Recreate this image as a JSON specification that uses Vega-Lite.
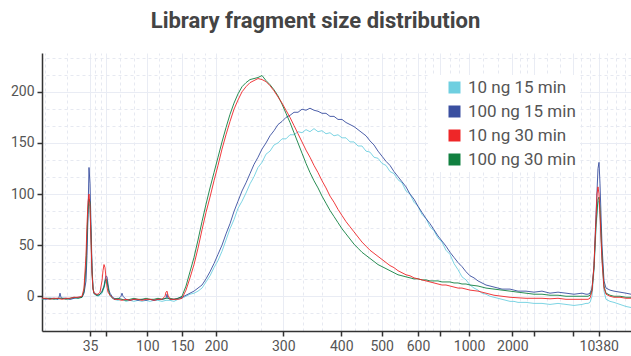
{
  "$schema": "https://vega.github.io/schema/vega-lite/v6.json",
  "width": 589,
  "height": 278,
  "autosize": "none",
  "padding": {"left": 42, "top": 53, "right": 0, "bottom": 25},
  "background": "white",
  "title": {"text": "Library fragment size distribution", "font": "Roboto", "fontSize": 22, "fontWeight": "bold", "color": "#444444", "anchor": "middle", "frame": "group", "dx": -21, "offset": 20},
  "config": {"view": {"stroke": null}},
  "data": {"values": [
{"sample":"10 ng 15 min","t":40,"signal":-3},{"sample":"10 ng 15 min","t":40.5,"signal":-2},{"sample":"10 ng 15 min","t":41,"signal":-3},{"sample":"10 ng 15 min","t":41.5,"signal":-2},{"sample":"10 ng 15 min","t":42,"signal":-3},{"sample":"10 ng 15 min","t":42.5,"signal":-2},{"sample":"10 ng 15 min","t":43,"signal":-2},{"sample":"10 ng 15 min","t":43.5,"signal":-3},{"sample":"10 ng 15 min","t":44,"signal":-2},{"sample":"10 ng 15 min","t":44.5,"signal":-2},{"sample":"10 ng 15 min","t":45,"signal":-1},
{"sample":"10 ng 15 min","t":45.25,"signal":4},{"sample":"10 ng 15 min","t":45.5,"signal":25},{"sample":"10 ng 15 min","t":45.625,"signal":55},{"sample":"10 ng 15 min","t":45.75,"signal":80},{"sample":"10 ng 15 min","t":45.875,"signal":90},{"sample":"10 ng 15 min","t":46,"signal":88},{"sample":"10 ng 15 min","t":46.125,"signal":58},{"sample":"10 ng 15 min","t":46.25,"signal":24},{"sample":"10 ng 15 min","t":46.375,"signal":7},{"sample":"10 ng 15 min","t":46.5,"signal":2},{"sample":"10 ng 15 min","t":46.75,"signal":1},{"sample":"10 ng 15 min","t":47,"signal":0},
{"sample":"10 ng 15 min","t":47.25,"signal":1},{"sample":"10 ng 15 min","t":47.5,"signal":3},{"sample":"10 ng 15 min","t":47.75,"signal":8},{"sample":"10 ng 15 min","t":47.875,"signal":12},{"sample":"10 ng 15 min","t":48,"signal":15},{"sample":"10 ng 15 min","t":48.125,"signal":14},{"sample":"10 ng 15 min","t":48.25,"signal":8},{"sample":"10 ng 15 min","t":48.375,"signal":4},{"sample":"10 ng 15 min","t":48.5,"signal":1},{"sample":"10 ng 15 min","t":48.75,"signal":-2},
{"sample":"10 ng 15 min","t":49,"signal":-3},{"sample":"10 ng 15 min","t":49.5,"signal":-4},{"sample":"10 ng 15 min","t":50,"signal":-3},{"sample":"10 ng 15 min","t":50.5,"signal":-5},{"sample":"10 ng 15 min","t":51,"signal":-4},{"sample":"10 ng 15 min","t":51.5,"signal":-5},{"sample":"10 ng 15 min","t":52,"signal":-4},{"sample":"10 ng 15 min","t":52.5,"signal":-5},{"sample":"10 ng 15 min","t":53,"signal":-4},{"sample":"10 ng 15 min","t":53.5,"signal":-5},{"sample":"10 ng 15 min","t":54,"signal":-4},{"sample":"10 ng 15 min","t":54.5,"signal":-4},{"sample":"10 ng 15 min","t":55,"signal":-5},{"sample":"10 ng 15 min","t":55.5,"signal":-4},{"sample":"10 ng 15 min","t":56,"signal":-4},{"sample":"10 ng 15 min","t":56.5,"signal":-5},
{"sample":"10 ng 15 min","t":57,"signal":-3},{"sample":"10 ng 15 min","t":57.5,"signal":-2},{"sample":"10 ng 15 min","t":58,"signal":0},{"sample":"10 ng 15 min","t":58.5,"signal":2},{"sample":"10 ng 15 min","t":59,"signal":3},{"sample":"10 ng 15 min","t":59.5,"signal":5},{"sample":"10 ng 15 min","t":60,"signal":8},{"sample":"10 ng 15 min","t":60.5,"signal":14},{"sample":"10 ng 15 min","t":61,"signal":20},{"sample":"10 ng 15 min","t":61.5,"signal":28},{"sample":"10 ng 15 min","t":62,"signal":35},{"sample":"10 ng 15 min","t":62.5,"signal":44},{"sample":"10 ng 15 min","t":63,"signal":55},{"sample":"10 ng 15 min","t":63.5,"signal":66},{"sample":"10 ng 15 min","t":64,"signal":75},{"sample":"10 ng 15 min","t":64.5,"signal":86},{"sample":"10 ng 15 min","t":65,"signal":93},{"sample":"10 ng 15 min","t":65.5,"signal":101},{"sample":"10 ng 15 min","t":66,"signal":110},{"sample":"10 ng 15 min","t":66.5,"signal":117},{"sample":"10 ng 15 min","t":67,"signal":126},{"sample":"10 ng 15 min","t":67.5,"signal":131},{"sample":"10 ng 15 min","t":68,"signal":139},{"sample":"10 ng 15 min","t":68.5,"signal":142},{"sample":"10 ng 15 min","t":69,"signal":148},{"sample":"10 ng 15 min","t":69.5,"signal":150},{"sample":"10 ng 15 min","t":70,"signal":154},{"sample":"10 ng 15 min","t":70.5,"signal":154},{"sample":"10 ng 15 min","t":71,"signal":158},{"sample":"10 ng 15 min","t":71.5,"signal":158},{"sample":"10 ng 15 min","t":72,"signal":161},{"sample":"10 ng 15 min","t":72.5,"signal":160},{"sample":"10 ng 15 min","t":73,"signal":163},{"sample":"10 ng 15 min","t":73.5,"signal":161},{"sample":"10 ng 15 min","t":74,"signal":164},{"sample":"10 ng 15 min","t":74.5,"signal":161},{"sample":"10 ng 15 min","t":75,"signal":162},{"sample":"10 ng 15 min","t":75.5,"signal":159},{"sample":"10 ng 15 min","t":76,"signal":160},{"sample":"10 ng 15 min","t":76.5,"signal":157},{"sample":"10 ng 15 min","t":77,"signal":158},{"sample":"10 ng 15 min","t":77.5,"signal":155},{"sample":"10 ng 15 min","t":78,"signal":155},{"sample":"10 ng 15 min","t":78.5,"signal":151},{"sample":"10 ng 15 min","t":79,"signal":151},{"sample":"10 ng 15 min","t":79.5,"signal":147},{"sample":"10 ng 15 min","t":80,"signal":147},{"sample":"10 ng 15 min","t":80.5,"signal":142},{"sample":"10 ng 15 min","t":81,"signal":141},{"sample":"10 ng 15 min","t":81.5,"signal":136},{"sample":"10 ng 15 min","t":82,"signal":135},{"sample":"10 ng 15 min","t":82.5,"signal":130},{"sample":"10 ng 15 min","t":83,"signal":128},{"sample":"10 ng 15 min","t":83.5,"signal":122},{"sample":"10 ng 15 min","t":84,"signal":120},{"sample":"10 ng 15 min","t":84.5,"signal":114},{"sample":"10 ng 15 min","t":85,"signal":111},{"sample":"10 ng 15 min","t":85.5,"signal":103},{"sample":"10 ng 15 min","t":86,"signal":100},{"sample":"10 ng 15 min","t":86.5,"signal":92},{"sample":"10 ng 15 min","t":87,"signal":88},{"sample":"10 ng 15 min","t":87.5,"signal":80},{"sample":"10 ng 15 min","t":88,"signal":76},{"sample":"10 ng 15 min","t":88.5,"signal":68},{"sample":"10 ng 15 min","t":89,"signal":64},{"sample":"10 ng 15 min","t":89.5,"signal":57},{"sample":"10 ng 15 min","t":90,"signal":53},{"sample":"10 ng 15 min","t":90.5,"signal":45},{"sample":"10 ng 15 min","t":91,"signal":41},{"sample":"10 ng 15 min","t":91.5,"signal":32},{"sample":"10 ng 15 min","t":92,"signal":26},{"sample":"10 ng 15 min","t":92.5,"signal":19},{"sample":"10 ng 15 min","t":93,"signal":16},{"sample":"10 ng 15 min","t":93.5,"signal":11},{"sample":"10 ng 15 min","t":94,"signal":8},{"sample":"10 ng 15 min","t":94.5,"signal":6},{"sample":"10 ng 15 min","t":95,"signal":3},{"sample":"10 ng 15 min","t":95.5,"signal":2},{"sample":"10 ng 15 min","t":96,"signal":0},{"sample":"10 ng 15 min","t":96.5,"signal":-1},{"sample":"10 ng 15 min","t":97,"signal":-2},{"sample":"10 ng 15 min","t":97.5,"signal":-3},{"sample":"10 ng 15 min","t":98,"signal":-4},{"sample":"10 ng 15 min","t":98.5,"signal":-5},{"sample":"10 ng 15 min","t":99,"signal":-5},{"sample":"10 ng 15 min","t":99.5,"signal":-6},{"sample":"10 ng 15 min","t":100.5,"signal":-6},{"sample":"10 ng 15 min","t":101.5,"signal":-7},{"sample":"10 ng 15 min","t":102.5,"signal":-7},{"sample":"10 ng 15 min","t":103.5,"signal":-8},{"sample":"10 ng 15 min","t":104.5,"signal":-7},{"sample":"10 ng 15 min","t":105.5,"signal":-8},{"sample":"10 ng 15 min","t":106.5,"signal":-9},{"sample":"10 ng 15 min","t":107.5,"signal":-8},{"sample":"10 ng 15 min","t":108,"signal":-7},
{"sample":"10 ng 15 min","t":108.25,"signal":-7},{"sample":"10 ng 15 min","t":108.5,"signal":-6},{"sample":"10 ng 15 min","t":108.75,"signal":0},{"sample":"10 ng 15 min","t":109,"signal":25},{"sample":"10 ng 15 min","t":109.25,"signal":65},{"sample":"10 ng 15 min","t":109.5,"signal":92},{"sample":"10 ng 15 min","t":109.625,"signal":93},{"sample":"10 ng 15 min","t":109.75,"signal":80},{"sample":"10 ng 15 min","t":110,"signal":35},{"sample":"10 ng 15 min","t":110.25,"signal":5},{"sample":"10 ng 15 min","t":110.5,"signal":-3},{"sample":"10 ng 15 min","t":111,"signal":-5},{"sample":"10 ng 15 min","t":111.5,"signal":-6},{"sample":"10 ng 15 min","t":112.25,"signal":-8},{"sample":"10 ng 15 min","t":113,"signal":-10},{"sample":"10 ng 15 min","t":113.625,"signal":-11},

{"sample":"100 ng 15 min","t":40,"signal":-2},{"sample":"100 ng 15 min","t":40.5,"signal":-3},{"sample":"100 ng 15 min","t":41,"signal":-2},{"sample":"100 ng 15 min","t":41.5,"signal":-2},{"sample":"100 ng 15 min","t":42,"signal":-3},{"sample":"100 ng 15 min","t":42.125,"signal":-1},{"sample":"100 ng 15 min","t":42.25,"signal":3},{"sample":"100 ng 15 min","t":42.375,"signal":-1},{"sample":"100 ng 15 min","t":42.5,"signal":-2},{"sample":"100 ng 15 min","t":43,"signal":-2},{"sample":"100 ng 15 min","t":43.5,"signal":-3},{"sample":"100 ng 15 min","t":44,"signal":-2},{"sample":"100 ng 15 min","t":44.5,"signal":-1},{"sample":"100 ng 15 min","t":45,"signal":-1},
{"sample":"100 ng 15 min","t":45.25,"signal":3},{"sample":"100 ng 15 min","t":45.5,"signal":15},{"sample":"100 ng 15 min","t":45.625,"signal":40},{"sample":"100 ng 15 min","t":45.75,"signal":80},{"sample":"100 ng 15 min","t":45.875,"signal":126},{"sample":"100 ng 15 min","t":46,"signal":110},{"sample":"100 ng 15 min","t":46.125,"signal":70},{"sample":"100 ng 15 min","t":46.25,"signal":30},{"sample":"100 ng 15 min","t":46.375,"signal":8},{"sample":"100 ng 15 min","t":46.5,"signal":3},{"sample":"100 ng 15 min","t":46.75,"signal":2},{"sample":"100 ng 15 min","t":47,"signal":1},
{"sample":"100 ng 15 min","t":47.25,"signal":2},{"sample":"100 ng 15 min","t":47.5,"signal":5},{"sample":"100 ng 15 min","t":47.75,"signal":10},{"sample":"100 ng 15 min","t":47.875,"signal":16},{"sample":"100 ng 15 min","t":48,"signal":20},{"sample":"100 ng 15 min","t":48.125,"signal":19},{"sample":"100 ng 15 min","t":48.25,"signal":12},{"sample":"100 ng 15 min","t":48.375,"signal":6},{"sample":"100 ng 15 min","t":48.5,"signal":3},{"sample":"100 ng 15 min","t":48.75,"signal":0},
{"sample":"100 ng 15 min","t":49,"signal":-2},{"sample":"100 ng 15 min","t":49.5,"signal":-3},{"sample":"100 ng 15 min","t":49.875,"signal":0},{"sample":"100 ng 15 min","t":50,"signal":3},{"sample":"100 ng 15 min","t":50.125,"signal":0},{"sample":"100 ng 15 min","t":50.5,"signal":-3},{"sample":"100 ng 15 min","t":51,"signal":-4},{"sample":"100 ng 15 min","t":51.5,"signal":-3},{"sample":"100 ng 15 min","t":52,"signal":-4},{"sample":"100 ng 15 min","t":52.5,"signal":-3},{"sample":"100 ng 15 min","t":53,"signal":-4},{"sample":"100 ng 15 min","t":53.5,"signal":-3},{"sample":"100 ng 15 min","t":54,"signal":-4},{"sample":"100 ng 15 min","t":54.5,"signal":-3},{"sample":"100 ng 15 min","t":55,"signal":-3},{"sample":"100 ng 15 min","t":55.5,"signal":-2},{"sample":"100 ng 15 min","t":55.625,"signal":2},{"sample":"100 ng 15 min","t":55.75,"signal":-2},{"sample":"100 ng 15 min","t":56,"signal":-3},{"sample":"100 ng 15 min","t":56.5,"signal":-3},
{"sample":"100 ng 15 min","t":57,"signal":-2},{"sample":"100 ng 15 min","t":57.5,"signal":-1},{"sample":"100 ng 15 min","t":58,"signal":1},{"sample":"100 ng 15 min","t":58.5,"signal":3},{"sample":"100 ng 15 min","t":59,"signal":5},{"sample":"100 ng 15 min","t":59.5,"signal":8},{"sample":"100 ng 15 min","t":60,"signal":11},{"sample":"100 ng 15 min","t":60.5,"signal":17},{"sample":"100 ng 15 min","t":61,"signal":24},{"sample":"100 ng 15 min","t":61.5,"signal":32},{"sample":"100 ng 15 min","t":62,"signal":41},{"sample":"100 ng 15 min","t":62.5,"signal":50},{"sample":"100 ng 15 min","t":63,"signal":61},{"sample":"100 ng 15 min","t":63.5,"signal":71},{"sample":"100 ng 15 min","t":64,"signal":83},{"sample":"100 ng 15 min","t":64.5,"signal":93},{"sample":"100 ng 15 min","t":65,"signal":103},{"sample":"100 ng 15 min","t":65.5,"signal":111},{"sample":"100 ng 15 min","t":66,"signal":120},{"sample":"100 ng 15 min","t":66.5,"signal":129},{"sample":"100 ng 15 min","t":67,"signal":136},{"sample":"100 ng 15 min","t":67.5,"signal":144},{"sample":"100 ng 15 min","t":68,"signal":150},{"sample":"100 ng 15 min","t":68.5,"signal":157},{"sample":"100 ng 15 min","t":69,"signal":162},{"sample":"100 ng 15 min","t":69.5,"signal":168},{"sample":"100 ng 15 min","t":70,"signal":171},{"sample":"100 ng 15 min","t":70.5,"signal":175},{"sample":"100 ng 15 min","t":71,"signal":177},{"sample":"100 ng 15 min","t":71.5,"signal":180},{"sample":"100 ng 15 min","t":72,"signal":180},{"sample":"100 ng 15 min","t":72.5,"signal":183},{"sample":"100 ng 15 min","t":73,"signal":182},{"sample":"100 ng 15 min","t":73.5,"signal":184},{"sample":"100 ng 15 min","t":74,"signal":182},{"sample":"100 ng 15 min","t":74.5,"signal":181},{"sample":"100 ng 15 min","t":75,"signal":179},{"sample":"100 ng 15 min","t":75.5,"signal":179},{"sample":"100 ng 15 min","t":76,"signal":176},{"sample":"100 ng 15 min","t":76.5,"signal":176},{"sample":"100 ng 15 min","t":77,"signal":173},{"sample":"100 ng 15 min","t":77.5,"signal":173},{"sample":"100 ng 15 min","t":78,"signal":170},{"sample":"100 ng 15 min","t":78.5,"signal":168},{"sample":"100 ng 15 min","t":79,"signal":166},{"sample":"100 ng 15 min","t":79.5,"signal":163},{"sample":"100 ng 15 min","t":80,"signal":160},{"sample":"100 ng 15 min","t":80.5,"signal":157},{"sample":"100 ng 15 min","t":81,"signal":152},{"sample":"100 ng 15 min","t":81.5,"signal":148},{"sample":"100 ng 15 min","t":82,"signal":142},{"sample":"100 ng 15 min","t":82.5,"signal":137},{"sample":"100 ng 15 min","t":83,"signal":132},{"sample":"100 ng 15 min","t":83.5,"signal":128},{"sample":"100 ng 15 min","t":84,"signal":122},{"sample":"100 ng 15 min","t":84.5,"signal":117},{"sample":"100 ng 15 min","t":85,"signal":112},{"sample":"100 ng 15 min","t":85.5,"signal":107},{"sample":"100 ng 15 min","t":86,"signal":100},{"sample":"100 ng 15 min","t":86.5,"signal":95},{"sample":"100 ng 15 min","t":87,"signal":88},{"sample":"100 ng 15 min","t":87.5,"signal":82},{"sample":"100 ng 15 min","t":88,"signal":76},{"sample":"100 ng 15 min","t":88.5,"signal":71},{"sample":"100 ng 15 min","t":89,"signal":65},{"sample":"100 ng 15 min","t":89.5,"signal":59},{"sample":"100 ng 15 min","t":90,"signal":54},{"sample":"100 ng 15 min","t":90.5,"signal":49},{"sample":"100 ng 15 min","t":91,"signal":43},{"sample":"100 ng 15 min","t":91.5,"signal":38},{"sample":"100 ng 15 min","t":92,"signal":33},{"sample":"100 ng 15 min","t":92.5,"signal":29},{"sample":"100 ng 15 min","t":93,"signal":24},{"sample":"100 ng 15 min","t":93.5,"signal":20},{"sample":"100 ng 15 min","t":94,"signal":18},{"sample":"100 ng 15 min","t":94.5,"signal":15},{"sample":"100 ng 15 min","t":95,"signal":13},{"sample":"100 ng 15 min","t":95.5,"signal":11},{"sample":"100 ng 15 min","t":96.5,"signal":9},{"sample":"100 ng 15 min","t":97.5,"signal":7},{"sample":"100 ng 15 min","t":98.5,"signal":7},{"sample":"100 ng 15 min","t":99.5,"signal":5},{"sample":"100 ng 15 min","t":100.5,"signal":5},{"sample":"100 ng 15 min","t":101.5,"signal":4},{"sample":"100 ng 15 min","t":102.5,"signal":5},{"sample":"100 ng 15 min","t":103.5,"signal":3},{"sample":"100 ng 15 min","t":104.5,"signal":4},{"sample":"100 ng 15 min","t":105.5,"signal":3},{"sample":"100 ng 15 min","t":106.5,"signal":2},{"sample":"100 ng 15 min","t":107.5,"signal":3},{"sample":"100 ng 15 min","t":108,"signal":2},
{"sample":"100 ng 15 min","t":108.25,"signal":2},{"sample":"100 ng 15 min","t":108.5,"signal":3},{"sample":"100 ng 15 min","t":108.75,"signal":8},{"sample":"100 ng 15 min","t":109,"signal":30},{"sample":"100 ng 15 min","t":109.25,"signal":80},{"sample":"100 ng 15 min","t":109.5,"signal":125},{"sample":"100 ng 15 min","t":109.625,"signal":131},{"sample":"100 ng 15 min","t":109.75,"signal":110},{"sample":"100 ng 15 min","t":110,"signal":50},{"sample":"100 ng 15 min","t":110.25,"signal":15},{"sample":"100 ng 15 min","t":110.5,"signal":8},{"sample":"100 ng 15 min","t":111,"signal":6},{"sample":"100 ng 15 min","t":111.5,"signal":5},{"sample":"100 ng 15 min","t":112.25,"signal":4},{"sample":"100 ng 15 min","t":113,"signal":3},{"sample":"100 ng 15 min","t":113.625,"signal":2},

{"sample":"100 ng 30 min","t":40,"signal":-3},{"sample":"100 ng 30 min","t":40.5,"signal":-2},{"sample":"100 ng 30 min","t":41,"signal":-2},{"sample":"100 ng 30 min","t":41.5,"signal":-3},{"sample":"100 ng 30 min","t":42,"signal":-2},{"sample":"100 ng 30 min","t":42.5,"signal":-2},{"sample":"100 ng 30 min","t":43,"signal":-3},{"sample":"100 ng 30 min","t":43.5,"signal":-2},{"sample":"100 ng 30 min","t":44,"signal":-1},{"sample":"100 ng 30 min","t":44.5,"signal":-2},{"sample":"100 ng 30 min","t":45,"signal":-1},
{"sample":"100 ng 30 min","t":45.25,"signal":5},{"sample":"100 ng 30 min","t":45.5,"signal":30},{"sample":"100 ng 30 min","t":45.625,"signal":60},{"sample":"100 ng 30 min","t":45.75,"signal":85},{"sample":"100 ng 30 min","t":45.875,"signal":95},{"sample":"100 ng 30 min","t":46,"signal":92},{"sample":"100 ng 30 min","t":46.125,"signal":60},{"sample":"100 ng 30 min","t":46.25,"signal":25},{"sample":"100 ng 30 min","t":46.375,"signal":8},{"sample":"100 ng 30 min","t":46.5,"signal":3},{"sample":"100 ng 30 min","t":46.75,"signal":1},{"sample":"100 ng 30 min","t":47,"signal":1},
{"sample":"100 ng 30 min","t":47.25,"signal":2},{"sample":"100 ng 30 min","t":47.5,"signal":4},{"sample":"100 ng 30 min","t":47.75,"signal":9},{"sample":"100 ng 30 min","t":47.875,"signal":14},{"sample":"100 ng 30 min","t":48,"signal":17},{"sample":"100 ng 30 min","t":48.125,"signal":15},{"sample":"100 ng 30 min","t":48.25,"signal":9},{"sample":"100 ng 30 min","t":48.375,"signal":4},{"sample":"100 ng 30 min","t":48.5,"signal":1},{"sample":"100 ng 30 min","t":48.75,"signal":-1},
{"sample":"100 ng 30 min","t":49,"signal":-3},{"sample":"100 ng 30 min","t":49.5,"signal":-2},{"sample":"100 ng 30 min","t":50,"signal":-3},{"sample":"100 ng 30 min","t":50.5,"signal":-4},{"sample":"100 ng 30 min","t":51,"signal":-3},{"sample":"100 ng 30 min","t":51.5,"signal":-2},{"sample":"100 ng 30 min","t":52,"signal":-3},{"sample":"100 ng 30 min","t":52.5,"signal":-3},{"sample":"100 ng 30 min","t":53,"signal":-2},{"sample":"100 ng 30 min","t":53.5,"signal":-3},{"sample":"100 ng 30 min","t":54,"signal":-3},{"sample":"100 ng 30 min","t":54.5,"signal":-2},{"sample":"100 ng 30 min","t":55,"signal":-3},{"sample":"100 ng 30 min","t":55.5,"signal":-2},{"sample":"100 ng 30 min","t":56,"signal":-2},{"sample":"100 ng 30 min","t":56.5,"signal":-3},
{"sample":"100 ng 30 min","t":57,"signal":-2},{"sample":"100 ng 30 min","t":57.5,"signal":0},{"sample":"100 ng 30 min","t":58,"signal":10},{"sample":"100 ng 30 min","t":58.5,"signal":24},{"sample":"100 ng 30 min","t":59,"signal":38},{"sample":"100 ng 30 min","t":59.5,"signal":55},{"sample":"100 ng 30 min","t":60,"signal":73},{"sample":"100 ng 30 min","t":60.5,"signal":90},{"sample":"100 ng 30 min","t":61,"signal":106},{"sample":"100 ng 30 min","t":61.5,"signal":121},{"sample":"100 ng 30 min","t":62,"signal":136},{"sample":"100 ng 30 min","t":62.5,"signal":151},{"sample":"100 ng 30 min","t":63,"signal":165},{"sample":"100 ng 30 min","t":63.5,"signal":178},{"sample":"100 ng 30 min","t":64,"signal":189},{"sample":"100 ng 30 min","t":64.5,"signal":198},{"sample":"100 ng 30 min","t":65,"signal":205},{"sample":"100 ng 30 min","t":65.5,"signal":209},{"sample":"100 ng 30 min","t":66,"signal":212},{"sample":"100 ng 30 min","t":66.5,"signal":213},{"sample":"100 ng 30 min","t":67,"signal":214},{"sample":"100 ng 30 min","t":67.5,"signal":216},{"sample":"100 ng 30 min","t":68,"signal":211},{"sample":"100 ng 30 min","t":68.5,"signal":207},{"sample":"100 ng 30 min","t":69,"signal":202},{"sample":"100 ng 30 min","t":69.5,"signal":196},{"sample":"100 ng 30 min","t":70,"signal":188},{"sample":"100 ng 30 min","t":70.5,"signal":179},{"sample":"100 ng 30 min","t":71,"signal":170},{"sample":"100 ng 30 min","t":71.5,"signal":160},{"sample":"100 ng 30 min","t":72,"signal":150},{"sample":"100 ng 30 min","t":72.5,"signal":140},{"sample":"100 ng 30 min","t":73,"signal":130},{"sample":"100 ng 30 min","t":73.5,"signal":121},{"sample":"100 ng 30 min","t":74,"signal":113},{"sample":"100 ng 30 min","t":74.5,"signal":106},{"sample":"100 ng 30 min","t":75,"signal":98},{"sample":"100 ng 30 min","t":75.5,"signal":91},{"sample":"100 ng 30 min","t":76,"signal":84},{"sample":"100 ng 30 min","t":76.5,"signal":78},{"sample":"100 ng 30 min","t":77,"signal":72},{"sample":"100 ng 30 min","t":77.5,"signal":66},{"sample":"100 ng 30 min","t":78,"signal":61},{"sample":"100 ng 30 min","t":78.5,"signal":56},{"sample":"100 ng 30 min","t":79,"signal":51},{"sample":"100 ng 30 min","t":79.5,"signal":47},{"sample":"100 ng 30 min","t":80,"signal":43},{"sample":"100 ng 30 min","t":80.5,"signal":40},{"sample":"100 ng 30 min","t":81,"signal":37},{"sample":"100 ng 30 min","t":81.5,"signal":34},{"sample":"100 ng 30 min","t":82,"signal":31},{"sample":"100 ng 30 min","t":82.5,"signal":29},{"sample":"100 ng 30 min","t":83,"signal":27},{"sample":"100 ng 30 min","t":83.5,"signal":25},{"sample":"100 ng 30 min","t":84,"signal":23},{"sample":"100 ng 30 min","t":84.5,"signal":21},{"sample":"100 ng 30 min","t":85,"signal":20},{"sample":"100 ng 30 min","t":85.5,"signal":19},{"sample":"100 ng 30 min","t":86,"signal":18},{"sample":"100 ng 30 min","t":86.5,"signal":17},{"sample":"100 ng 30 min","t":87,"signal":17},{"sample":"100 ng 30 min","t":87.5,"signal":16},{"sample":"100 ng 30 min","t":88,"signal":16},{"sample":"100 ng 30 min","t":88.5,"signal":15},{"sample":"100 ng 30 min","t":89,"signal":15},{"sample":"100 ng 30 min","t":89.5,"signal":15},{"sample":"100 ng 30 min","t":90,"signal":14},{"sample":"100 ng 30 min","t":90.5,"signal":14},{"sample":"100 ng 30 min","t":91,"signal":14},{"sample":"100 ng 30 min","t":91.5,"signal":13},{"sample":"100 ng 30 min","t":92,"signal":13},{"sample":"100 ng 30 min","t":92.5,"signal":12},{"sample":"100 ng 30 min","t":93,"signal":12},{"sample":"100 ng 30 min","t":93.5,"signal":11},{"sample":"100 ng 30 min","t":94.5,"signal":10},{"sample":"100 ng 30 min","t":95.5,"signal":8},{"sample":"100 ng 30 min","t":96.5,"signal":7},{"sample":"100 ng 30 min","t":97.5,"signal":6},{"sample":"100 ng 30 min","t":98.5,"signal":5},{"sample":"100 ng 30 min","t":99.5,"signal":4},{"sample":"100 ng 30 min","t":100.5,"signal":3},{"sample":"100 ng 30 min","t":101.5,"signal":2},{"sample":"100 ng 30 min","t":102.5,"signal":2},{"sample":"100 ng 30 min","t":103.5,"signal":1},{"sample":"100 ng 30 min","t":104.5,"signal":1},{"sample":"100 ng 30 min","t":105.5,"signal":0},{"sample":"100 ng 30 min","t":106.5,"signal":0},{"sample":"100 ng 30 min","t":107.5,"signal":0},{"sample":"100 ng 30 min","t":108,"signal":0},
{"sample":"100 ng 30 min","t":108.25,"signal":0},{"sample":"100 ng 30 min","t":108.5,"signal":1},{"sample":"100 ng 30 min","t":108.75,"signal":6},{"sample":"100 ng 30 min","t":109,"signal":28},{"sample":"100 ng 30 min","t":109.25,"signal":70},{"sample":"100 ng 30 min","t":109.5,"signal":95},{"sample":"100 ng 30 min","t":109.625,"signal":97},{"sample":"100 ng 30 min","t":109.75,"signal":85},{"sample":"100 ng 30 min","t":110,"signal":40},{"sample":"100 ng 30 min","t":110.25,"signal":10},{"sample":"100 ng 30 min","t":110.5,"signal":3},{"sample":"100 ng 30 min","t":111,"signal":1},{"sample":"100 ng 30 min","t":111.5,"signal":0},{"sample":"100 ng 30 min","t":112.25,"signal":0},{"sample":"100 ng 30 min","t":113,"signal":-1},{"sample":"100 ng 30 min","t":113.625,"signal":-1},

{"sample":"10 ng 30 min","t":40,"signal":-2},{"sample":"10 ng 30 min","t":40.5,"signal":-2},{"sample":"10 ng 30 min","t":41,"signal":-3},{"sample":"10 ng 30 min","t":41.5,"signal":-2},{"sample":"10 ng 30 min","t":42,"signal":-2},{"sample":"10 ng 30 min","t":42.5,"signal":-3},{"sample":"10 ng 30 min","t":43,"signal":-2},{"sample":"10 ng 30 min","t":43.5,"signal":-2},{"sample":"10 ng 30 min","t":44,"signal":-1},{"sample":"10 ng 30 min","t":44.5,"signal":-1},{"sample":"10 ng 30 min","t":45,"signal":0},
{"sample":"10 ng 30 min","t":45.25,"signal":8},{"sample":"10 ng 30 min","t":45.5,"signal":40},{"sample":"10 ng 30 min","t":45.625,"signal":70},{"sample":"10 ng 30 min","t":45.75,"signal":92},{"sample":"10 ng 30 min","t":45.875,"signal":100},{"sample":"10 ng 30 min","t":46,"signal":88},{"sample":"10 ng 30 min","t":46.125,"signal":55},{"sample":"10 ng 30 min","t":46.25,"signal":22},{"sample":"10 ng 30 min","t":46.375,"signal":7},{"sample":"10 ng 30 min","t":46.5,"signal":3},{"sample":"10 ng 30 min","t":46.75,"signal":2},{"sample":"10 ng 30 min","t":47,"signal":2},
{"sample":"10 ng 30 min","t":47.25,"signal":4},{"sample":"10 ng 30 min","t":47.5,"signal":15},{"sample":"10 ng 30 min","t":47.625,"signal":25},{"sample":"10 ng 30 min","t":47.75,"signal":31},{"sample":"10 ng 30 min","t":47.875,"signal":28},{"sample":"10 ng 30 min","t":48,"signal":18},{"sample":"10 ng 30 min","t":48.125,"signal":9},{"sample":"10 ng 30 min","t":48.25,"signal":4},{"sample":"10 ng 30 min","t":48.5,"signal":1},{"sample":"10 ng 30 min","t":48.75,"signal":-1},
{"sample":"10 ng 30 min","t":49,"signal":-3},{"sample":"10 ng 30 min","t":49.5,"signal":-3},{"sample":"10 ng 30 min","t":50,"signal":-4},{"sample":"10 ng 30 min","t":50.5,"signal":-3},{"sample":"10 ng 30 min","t":51,"signal":-4},{"sample":"10 ng 30 min","t":51.5,"signal":-3},{"sample":"10 ng 30 min","t":52,"signal":-3},{"sample":"10 ng 30 min","t":52.5,"signal":-4},{"sample":"10 ng 30 min","t":53,"signal":-3},{"sample":"10 ng 30 min","t":53.5,"signal":-3},{"sample":"10 ng 30 min","t":54,"signal":-4},{"sample":"10 ng 30 min","t":54.5,"signal":-3},{"sample":"10 ng 30 min","t":55,"signal":-3},{"sample":"10 ng 30 min","t":55.375,"signal":0},{"sample":"10 ng 30 min","t":55.5,"signal":4},{"sample":"10 ng 30 min","t":55.625,"signal":5},{"sample":"10 ng 30 min","t":55.75,"signal":1},{"sample":"10 ng 30 min","t":56,"signal":-3},{"sample":"10 ng 30 min","t":56.5,"signal":-3},
{"sample":"10 ng 30 min","t":57,"signal":-3},{"sample":"10 ng 30 min","t":57.5,"signal":-2},{"sample":"10 ng 30 min","t":58,"signal":6},{"sample":"10 ng 30 min","t":58.5,"signal":18},{"sample":"10 ng 30 min","t":59,"signal":31},{"sample":"10 ng 30 min","t":59.5,"signal":47},{"sample":"10 ng 30 min","t":60,"signal":65},{"sample":"10 ng 30 min","t":60.5,"signal":82},{"sample":"10 ng 30 min","t":61,"signal":97},{"sample":"10 ng 30 min","t":61.5,"signal":113},{"sample":"10 ng 30 min","t":62,"signal":128},{"sample":"10 ng 30 min","t":62.5,"signal":144},{"sample":"10 ng 30 min","t":63,"signal":158},{"sample":"10 ng 30 min","t":63.5,"signal":171},{"sample":"10 ng 30 min","t":64,"signal":183},{"sample":"10 ng 30 min","t":64.5,"signal":192},{"sample":"10 ng 30 min","t":65,"signal":200},{"sample":"10 ng 30 min","t":65.5,"signal":205},{"sample":"10 ng 30 min","t":66,"signal":209},{"sample":"10 ng 30 min","t":66.5,"signal":211},{"sample":"10 ng 30 min","t":67,"signal":213},{"sample":"10 ng 30 min","t":67.5,"signal":212},{"sample":"10 ng 30 min","t":68,"signal":210},{"sample":"10 ng 30 min","t":68.5,"signal":206},{"sample":"10 ng 30 min","t":69,"signal":201},{"sample":"10 ng 30 min","t":69.5,"signal":195},{"sample":"10 ng 30 min","t":70,"signal":189},{"sample":"10 ng 30 min","t":70.5,"signal":182},{"sample":"10 ng 30 min","t":71,"signal":175},{"sample":"10 ng 30 min","t":71.5,"signal":167},{"sample":"10 ng 30 min","t":72,"signal":159},{"sample":"10 ng 30 min","t":72.5,"signal":151},{"sample":"10 ng 30 min","t":73,"signal":143},{"sample":"10 ng 30 min","t":73.5,"signal":136},{"sample":"10 ng 30 min","t":74,"signal":128},{"sample":"10 ng 30 min","t":74.5,"signal":121},{"sample":"10 ng 30 min","t":75,"signal":113},{"sample":"10 ng 30 min","t":75.5,"signal":106},{"sample":"10 ng 30 min","t":76,"signal":98},{"sample":"10 ng 30 min","t":76.5,"signal":92},{"sample":"10 ng 30 min","t":77,"signal":85},{"sample":"10 ng 30 min","t":77.5,"signal":79},{"sample":"10 ng 30 min","t":78,"signal":73},{"sample":"10 ng 30 min","t":78.5,"signal":68},{"sample":"10 ng 30 min","t":79,"signal":63},{"sample":"10 ng 30 min","t":79.5,"signal":58},{"sample":"10 ng 30 min","t":80,"signal":53},{"sample":"10 ng 30 min","t":80.5,"signal":49},{"sample":"10 ng 30 min","t":81,"signal":45},{"sample":"10 ng 30 min","t":81.5,"signal":42},{"sample":"10 ng 30 min","t":82,"signal":39},{"sample":"10 ng 30 min","t":82.5,"signal":36},{"sample":"10 ng 30 min","t":83,"signal":33},{"sample":"10 ng 30 min","t":83.5,"signal":30},{"sample":"10 ng 30 min","t":84,"signal":28},{"sample":"10 ng 30 min","t":84.5,"signal":25},{"sample":"10 ng 30 min","t":85,"signal":23},{"sample":"10 ng 30 min","t":85.5,"signal":21},{"sample":"10 ng 30 min","t":86,"signal":20},{"sample":"10 ng 30 min","t":86.5,"signal":18},{"sample":"10 ng 30 min","t":87,"signal":17},{"sample":"10 ng 30 min","t":87.5,"signal":16},{"sample":"10 ng 30 min","t":88,"signal":15},{"sample":"10 ng 30 min","t":88.5,"signal":14},{"sample":"10 ng 30 min","t":89,"signal":13},{"sample":"10 ng 30 min","t":89.5,"signal":12},{"sample":"10 ng 30 min","t":90,"signal":11},{"sample":"10 ng 30 min","t":90.5,"signal":11},{"sample":"10 ng 30 min","t":91,"signal":10},{"sample":"10 ng 30 min","t":91.5,"signal":9},{"sample":"10 ng 30 min","t":92,"signal":8},{"sample":"10 ng 30 min","t":92.5,"signal":8},{"sample":"10 ng 30 min","t":93,"signal":7},{"sample":"10 ng 30 min","t":93.5,"signal":6},{"sample":"10 ng 30 min","t":94.5,"signal":5},{"sample":"10 ng 30 min","t":95.5,"signal":3},{"sample":"10 ng 30 min","t":96.5,"signal":1},{"sample":"10 ng 30 min","t":97.5,"signal":0},{"sample":"10 ng 30 min","t":98.5,"signal":-1},{"sample":"10 ng 30 min","t":99.5,"signal":-1.5},{"sample":"10 ng 30 min","t":100.5,"signal":-2},{"sample":"10 ng 30 min","t":101.5,"signal":-2},{"sample":"10 ng 30 min","t":102.5,"signal":-2},{"sample":"10 ng 30 min","t":103.5,"signal":-2.5},{"sample":"10 ng 30 min","t":104.5,"signal":-2},{"sample":"10 ng 30 min","t":105.5,"signal":-3},{"sample":"10 ng 30 min","t":106.5,"signal":-3},{"sample":"10 ng 30 min","t":107.5,"signal":-3},{"sample":"10 ng 30 min","t":108,"signal":-3},
{"sample":"10 ng 30 min","t":108.25,"signal":-3},{"sample":"10 ng 30 min","t":108.5,"signal":-2},{"sample":"10 ng 30 min","t":108.75,"signal":5},{"sample":"10 ng 30 min","t":109,"signal":30},{"sample":"10 ng 30 min","t":109.25,"signal":75},{"sample":"10 ng 30 min","t":109.375,"signal":100},{"sample":"10 ng 30 min","t":109.5,"signal":107},{"sample":"10 ng 30 min","t":109.625,"signal":100},{"sample":"10 ng 30 min","t":109.75,"signal":80},{"sample":"10 ng 30 min","t":110,"signal":35},{"sample":"10 ng 30 min","t":110.25,"signal":8},{"sample":"10 ng 30 min","t":110.5,"signal":2},{"sample":"10 ng 30 min","t":111,"signal":0},{"sample":"10 ng 30 min","t":111.5,"signal":-1},{"sample":"10 ng 30 min","t":112.25,"signal":-1},{"sample":"10 ng 30 min","t":113,"signal":-2},{"sample":"10 ng 30 min","t":113.625,"signal":-2}
  ]},
  "layer": [
    {
      "mark": {"type": "point", "opacity": 0, "size": 1},
      "encoding": {
        "x": {"field": "t", "type": "quantitative", "scale": {"domain": [40, 113.625], "nice": false, "zero": false},
          "axis": {"orient": "top", "title": null, "labels": false, "ticks": false, "domain": false, "grid": true, "gridDash": [3, 3], "gridColor": "#e6e9f1", "gridWidth": 1,
            "values": [40.38, 43.16, 46.68, 47.36, 49.75, 51.45, 54.62, 56.08, 58.94, 60.35, 64.55, 67.36, 72.58, 74.99, 79.09, 80.78, 83.97, 85.49, 87.92, 88.83, 90.96, 92.17, 95.18, 96.99, 99.71, 100.62, 103.14, 104.74, 107.42, 108.51, 110.67, 111.76, 112.84]}},
        "y": {"field": "signal", "type": "quantitative", "scale": {"domain": [-34, 238], "nice": false, "zero": false},
          "axis": {"orient": "right", "title": null, "labels": false, "ticks": false, "domain": false, "grid": true, "gridDash": [3, 3], "gridColor": "#e6e9f1", "gridWidth": 1,
            "values": [-16.67, 16.67, 33.33, 66.67, 83.33, 116.67, 133.33, 166.67, 183.33, 216.67, 233.33]}}
      }
    },
    {
      "mark": {"type": "line", "strokeWidth": 1, "strokeOpacity": 0.9, "clip": true, "interpolate": "linear"},
      "encoding": {
        "x": {"field": "t", "type": "quantitative", "scale": {"domain": [40, 113.625], "nice": false, "zero": false},
          "axis": {"orient": "bottom", "title": null, "grid": true, "gridColor": "#e9ecf4", "gridWidth": 1,
            "values": [46, 48.04, 53.16, 57.54, 61.75, 70.16, 77.41, 82.46, 87, 89.75, 93.38, 98.79, 101.54, 106.34, 109.59],
            "labelExpr": "datum.value == 46 ? '35' : datum.value == 53.16 ? '100' : datum.value == 57.54 ? '150' : datum.value == 61.75 ? '200' : datum.value == 70.16 ? '300' : datum.value == 77.41 ? '400' : datum.value == 82.46 ? '500' : datum.value == 87 ? '600' : datum.value == 93.38 ? '1000' : datum.value == 98.79 ? '2000' : datum.value == 109.59 ? '10380' : ''",
            "labelOverlap": false, "labelFlush": false, "labelFont": "Roboto", "labelFontSize": 14, "labelColor": "#555555", "labelPadding": 3,
            "domainColor": "#333333", "domainWidth": 1.5, "tickColor": "#333333", "tickWidth": 1.5, "tickSize": 5}},
        "y": {"field": "signal", "type": "quantitative", "scale": {"domain": [-34, 238], "nice": false, "zero": false},
          "axis": {"orient": "left", "title": null, "grid": true, "gridColor": "#e9ecf4", "gridWidth": 1,
            "values": [0, 50, 100, 150, 200], "labelFont": "Roboto", "labelFontSize": 14, "labelColor": "#555555", "labelPadding": 3,
            "domainColor": "#333333", "domainWidth": 1.5, "tickColor": "#333333", "tickWidth": 1.5, "tickSize": 5}},
        "color": {"field": "sample", "type": "nominal",
          "scale": {"domain": ["10 ng 15 min", "100 ng 15 min", "10 ng 30 min", "100 ng 30 min"], "range": ["#6fcfe0", "#3a4fa0", "#ee2628", "#118040"]},
          "legend": {"orient": "none", "legendX": 386, "legendY": 22, "title": null, "symbolType": "square", "symbolSize": 144, "symbolStrokeWidth": 0,
            "labelFont": "Roboto", "labelFontSize": 17, "labelColor": "#555555", "fillColor": "white", "padding": 4, "symbolOffset": 14, "labelOffset": 5, "rowPadding": 6,
            "encode": {"symbols": {"update": {"fill": {"scale": "color", "field": "value"}, "fillOpacity": {"value": 1}, "opacity": {"value": 1}}}}}}
      }
    }
  ],
  "resolve": {"axis": {"x": "independent", "y": "independent"}}
}
